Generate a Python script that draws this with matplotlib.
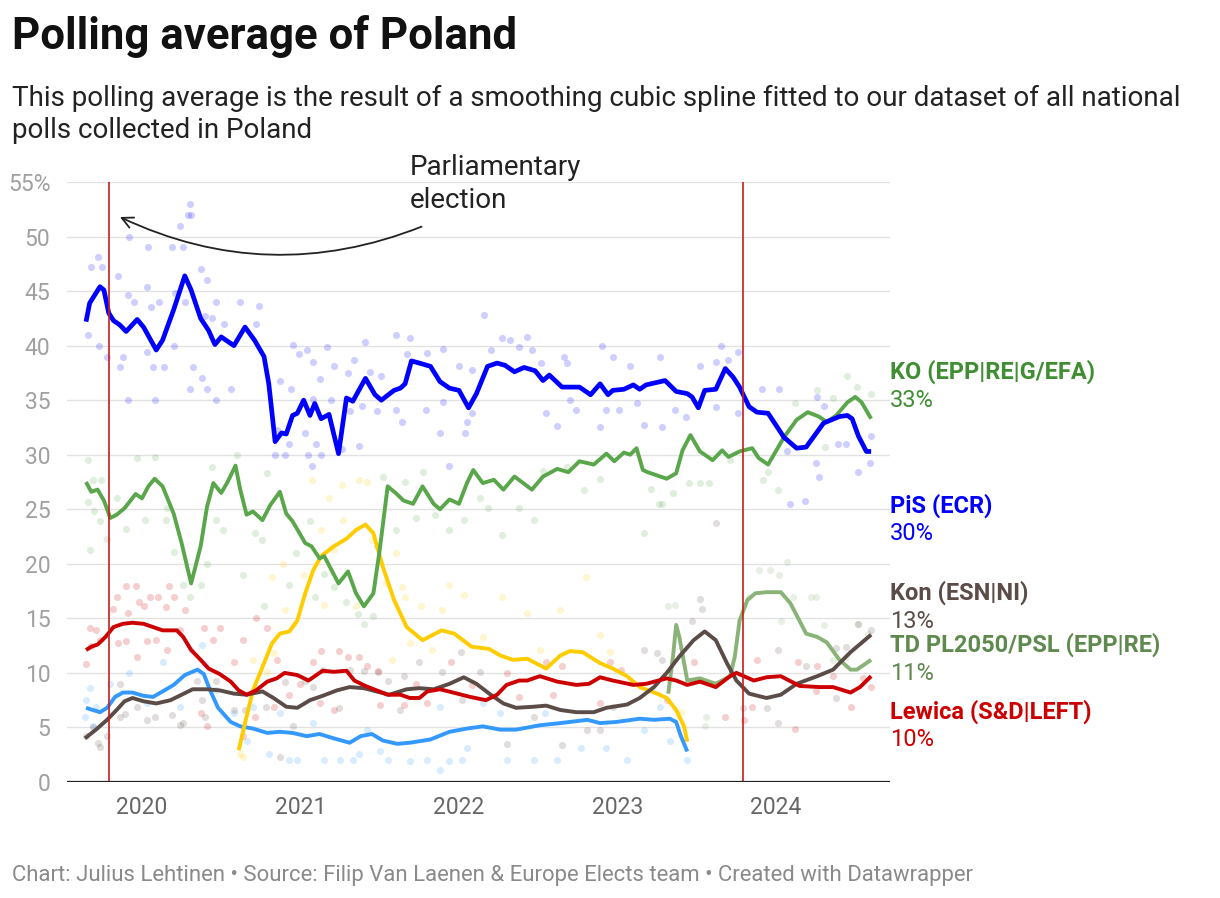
import matplotlib
matplotlib.use("Agg")
import matplotlib.pyplot as plt
from matplotlib.patches import FancyArrowPatch

plt.rcParams['font.family'] = ['Roboto', 'DejaVu Sans']

###################################
#     Data ###
###################################

pis_x = [2019.647, 2019.67, 2019.735, 2019.76, 2019.79, 2019.82, 2019.86, 2019.90, 2019.97, 2020.01,
         2020.09, 2020.13, 2020.20, 2020.27, 2020.31, 2020.37, 2020.42, 2020.46, 2020.50, 2020.58,
         2020.65, 2020.71, 2020.77, 2020.80, 2020.84, 2020.88, 2020.91, 2020.95, 2020.98, 2021.02,
         2021.06, 2021.09, 2021.13, 2021.18, 2021.24, 2021.29, 2021.33, 2021.41, 2021.47, 2021.51,
         2021.59, 2021.63, 2021.66, 2021.70, 2021.75, 2021.82, 2021.88, 2021.94, 2022.00, 2022.06,
         2022.11, 2022.18, 2022.24, 2022.29, 2022.35, 2022.41, 2022.48, 2022.53, 2022.57, 2022.65,
         2022.76, 2022.83, 2022.89, 2022.94, 2022.97, 2023.04, 2023.10, 2023.14, 2023.18, 2023.30,
         2023.37, 2023.44, 2023.47, 2023.51, 2023.55, 2023.62, 2023.68, 2023.73, 2023.77, 2023.83,
         2023.88, 2023.95, 2024.05, 2024.13, 2024.19, 2024.30, 2024.40, 2024.45, 2024.48, 2024.52,
         2024.57, 2024.60]
pis_y = [42.2, 43.9, 45.4, 45.1, 43.0, 42.3, 41.9, 41.3, 42.4, 41.7,
         39.6, 40.5, 43.3, 46.4, 45.1, 42.5, 41.4, 40.1, 40.8, 40.0,
         41.7, 40.5, 39.0, 36.5, 31.2, 32.0, 31.9, 33.6, 33.8, 35.0,
         33.6, 34.7, 33.3, 33.7, 30.1, 35.2, 34.9, 37.0, 35.5, 35.0,
         35.9, 36.1, 36.5, 38.6, 38.4, 38.1, 36.7, 36.1, 35.9, 34.3,
         35.6, 38.1, 38.4, 38.2, 37.6, 38.0, 37.7, 36.8, 37.3, 36.2,
         36.2, 35.5, 36.5, 35.5, 35.9, 36.0, 36.4, 36.0, 36.4, 36.8,
         35.8, 35.6, 35.3, 34.3, 35.9, 36.0, 37.9, 37.1, 36.2, 34.4,
         33.9, 33.8, 31.6, 30.6, 30.7, 32.9, 33.5, 33.6, 33.3, 31.7,
         30.3, 30.3]

ko_x = [2019.647, 2019.68, 2019.72, 2019.76, 2019.80, 2019.84, 2019.89, 2019.96, 2020.00, 2020.04,
        2020.08, 2020.13, 2020.20, 2020.25, 2020.31, 2020.37, 2020.41, 2020.45, 2020.50, 2020.54,
        2020.59, 2020.62, 2020.66, 2020.70, 2020.76, 2020.81, 2020.87, 2020.91, 2020.95, 2021.03,
        2021.07, 2021.12, 2021.15, 2021.24, 2021.30, 2021.35, 2021.40, 2021.46, 2021.50, 2021.55,
        2021.60, 2021.65, 2021.71, 2021.77, 2021.84, 2021.88, 2021.94, 2022.00, 2022.05, 2022.09,
        2022.15, 2022.22, 2022.28, 2022.35, 2022.46, 2022.53, 2022.62, 2022.69, 2022.76, 2022.85,
        2022.93, 2022.98, 2023.04, 2023.08, 2023.12, 2023.16, 2023.19, 2023.25, 2023.31, 2023.37,
        2023.41, 2023.46, 2023.52, 2023.60, 2023.66, 2023.70, 2023.77, 2023.85, 2023.89, 2023.95,
        2024.05, 2024.13, 2024.20, 2024.27, 2024.32, 2024.38, 2024.45, 2024.50, 2024.54, 2024.60]
ko_y = [27.5, 26.6, 26.8, 25.8, 24.2, 24.5, 25.1, 26.4, 26.0, 27.1,
        27.8, 27.1, 24.6, 21.9, 18.2, 21.6, 25.2, 27.4, 26.5, 27.5,
        29.0, 26.8, 24.5, 24.8, 24.0, 25.4, 26.6, 24.6, 23.9, 21.9,
        21.6, 20.5, 20.7, 18.2, 19.3, 17.3, 16.1, 17.3, 21.3, 27.1,
        26.5, 25.8, 25.5, 27.1, 25.5, 25.0, 25.9, 25.5, 27.4, 28.6,
        27.4, 27.7, 26.8, 28.0, 26.8, 28.0, 28.7, 28.4, 29.4, 29.1,
        30.1, 29.4, 30.2, 30.0, 30.6, 28.6, 28.4, 28.1, 27.8, 28.3,
        30.4, 31.8, 30.3, 29.5, 30.4, 29.8, 30.3, 30.6, 29.7, 29.1,
        31.6, 33.2, 33.9, 33.5, 33.0, 33.6, 34.8, 35.3, 34.8, 33.3]

td_x = [2023.32, 2023.35, 2023.37, 2023.39, 2023.44, 2023.52, 2023.62, 2023.71, 2023.74, 2023.77,
        2023.82, 2023.87, 2023.94, 2024.03, 2024.09, 2024.19, 2024.26, 2024.32, 2024.40, 2024.47,
        2024.51, 2024.60]
td_y = [8.1, 11.5, 14.4, 13.3, 9.3, 9.5, 9.0, 9.7, 11.5, 14.8,
        16.7, 17.3, 17.4, 17.4, 16.4, 13.6, 13.3, 12.8, 11.2, 10.3,
        10.3, 11.2]

kon_x = [2019.64, 2019.71, 2019.78, 2019.84, 2019.89, 2019.94, 2020.01, 2020.09, 2020.18, 2020.25,
         2020.32, 2020.41, 2020.49, 2020.58, 2020.66, 2020.76, 2020.83, 2020.91, 2020.98, 2021.06,
         2021.14, 2021.23, 2021.31, 2021.40, 2021.48, 2021.56, 2021.67, 2021.75, 2021.84, 2021.94,
         2022.03, 2022.11, 2022.20, 2022.28, 2022.36, 2022.47, 2022.55, 2022.64, 2022.74, 2022.85,
         2022.93, 2023.06, 2023.14, 2023.23, 2023.31, 2023.39, 2023.48, 2023.55, 2023.62, 2023.69,
         2023.75, 2023.83, 2023.94, 2024.03, 2024.13, 2024.26, 2024.36, 2024.47, 2024.60]
kon_y = [4.0, 4.8, 5.7, 6.6, 7.4, 7.7, 7.4, 7.2, 7.5, 8.0,
         8.5, 8.5, 8.4, 8.1, 8.0, 8.3, 7.7, 6.9, 6.8, 7.5,
         7.9, 8.4, 8.7, 8.6, 8.3, 8.0, 8.5, 8.6, 8.5, 9.0,
         9.6, 9.0, 8.0, 7.2, 6.8, 6.9, 7.0, 6.6, 6.4, 6.4,
         6.8, 7.1, 7.7, 8.7, 10.0, 11.5, 13.0, 13.8, 13.0, 10.9,
         9.3, 8.1, 7.7, 8.0, 9.0, 9.7, 10.3, 11.9, 13.5]

lew_x = [2019.647, 2019.68, 2019.72, 2019.77, 2019.82, 2019.88, 2019.94, 2020.01, 2020.07, 2020.13,
         2020.22, 2020.26, 2020.31, 2020.37, 2020.42, 2020.49, 2020.56, 2020.61, 2020.66, 2020.72,
         2020.79, 2020.85, 2020.90, 2020.98, 2021.05, 2021.09, 2021.14, 2021.21, 2021.29, 2021.34,
         2021.41, 2021.48, 2021.55, 2021.63, 2021.69, 2021.75, 2021.80, 2021.88, 2021.99, 2022.07,
         2022.17, 2022.24, 2022.30, 2022.38, 2022.43, 2022.51, 2022.62, 2022.74, 2022.82, 2022.89,
         2022.97, 2023.10, 2023.18, 2023.31, 2023.37, 2023.44, 2023.52, 2023.62, 2023.71, 2023.75,
         2023.86, 2023.94, 2024.03, 2024.15, 2024.28, 2024.36, 2024.47, 2024.53, 2024.60]
lew_y = [12.1, 12.4, 12.6, 13.3, 14.2, 14.5, 14.6, 14.5, 14.2, 13.9,
         13.9, 13.3, 12.1, 11.2, 10.4, 9.9, 9.2, 8.4, 8.0, 8.4,
         9.2, 9.5, 10.0, 9.8, 9.3, 9.7, 10.2, 10.1, 10.2, 9.3,
         8.8, 8.4, 8.0, 8.0, 7.7, 7.7, 8.3, 8.5, 8.1, 7.8,
         7.5, 8.0, 8.9, 9.3, 9.3, 9.7, 9.2, 8.9, 9.0, 9.6,
         9.3, 8.9, 9.0, 9.5, 9.3, 8.9, 9.2, 8.7, 9.7, 10.0,
         9.3, 9.6, 9.7, 8.8, 8.7, 8.7, 8.2, 8.7, 9.7]

pl2050_x = [2020.61, 2020.65, 2020.70, 2020.77, 2020.82, 2020.87, 2020.93, 2020.98, 2021.03, 2021.08,
            2021.13, 2021.21, 2021.29, 2021.35, 2021.41, 2021.46, 2021.52, 2021.59, 2021.67, 2021.77,
            2021.89, 2021.97, 2022.08, 2022.19, 2022.26, 2022.34, 2022.43, 2022.55, 2022.64, 2022.70,
            2022.78, 2022.89, 2022.97, 2023.06, 2023.14, 2023.25, 2023.31, 2023.37, 2023.42, 2023.44]
pl2050_y = [2.9, 5.4, 8.4, 10.9, 12.7, 13.6, 13.8, 14.8, 17.3, 19.4,
            20.7, 21.6, 22.3, 23.1, 23.6, 22.8, 19.7, 16.7, 14.2, 13.0,
            13.9, 13.6, 12.4, 12.2, 11.6, 11.2, 11.3, 10.4, 11.6, 12.0,
            11.9, 10.9, 10.4, 9.7, 8.7, 8.1, 7.7, 6.6, 5.1, 3.7]

psl_x = [2019.647, 2019.69, 2019.735, 2019.78, 2019.83, 2019.88, 2019.94, 2020.01, 2020.07, 2020.13,
         2020.20, 2020.27, 2020.35, 2020.39, 2020.43, 2020.48, 2020.56, 2020.62, 2020.70, 2020.79,
         2020.87, 2020.95, 2021.04, 2021.12, 2021.21, 2021.31, 2021.38, 2021.45, 2021.52, 2021.61,
         2021.69, 2021.82, 2021.94, 2022.05, 2022.15, 2022.26, 2022.36, 2022.51, 2022.64, 2022.81,
         2022.89, 2022.99, 2023.14, 2023.23, 2023.33, 2023.37, 2023.40, 2023.44]
psl_y = [6.8, 6.6, 6.4, 6.8, 7.8, 8.2, 8.2, 7.9, 7.8, 8.3,
         8.9, 9.8, 10.3, 9.9, 8.4, 6.8, 5.5, 5.1, 4.9, 4.5,
         4.6, 4.5, 4.2, 4.4, 4.0, 3.6, 4.2, 4.4, 3.8, 3.5,
         3.6, 3.9, 4.6, 4.9, 5.1, 4.8, 4.8, 5.2, 5.4, 5.7,
         5.4, 5.5, 5.8, 5.7, 5.8, 5.5, 4.2, 2.8]

# individual polls (a sample of the dots)
pis_poll_x = [2020.30, 2020.29, 2020.31, 2020.24, 2019.92, 2020.04, 2020.19, 2020.26, 2019.72, 2019.68,
              2019.75, 2020.37, 2019.85, 2020.41, 2020.03, 2019.91, 2019.95, 2020.06, 2020.11, 2020.21,
              2020.27, 2020.47, 2020.62, 2020.74, 2020.72, 2020.40, 2020.44, 2020.52, 2020.03, 2020.07,
              2020.14, 2019.86, 2019.88, 2019.78, 2019.66, 2019.73, 2020.20, 2020.32, 2020.38, 2020.30,
              2020.41, 2020.47, 2019.91, 2020.08, 2020.56, 2020.95, 2021.04, 2021.17, 2020.99, 2021.21,
              2021.41, 2021.34, 2021.60, 2021.69, 2021.67, 2021.08, 2021.12, 2021.30, 2021.44, 2021.51,
              2020.94, 2020.87, 2021.08, 2021.19, 2021.31, 2021.39, 2021.48, 2021.60, 2021.64, 2020.84,
              2020.90, 2021.05, 2021.13, 2021.26, 2021.37, 2021.03, 2020.93, 2021.10, 2020.85, 2021.07,
              2022.16, 2022.43, 2022.32, 2022.20, 2022.27, 2022.38, 2022.46, 2021.90, 2021.80, 2022.90,
              2022.97, 2023.27, 2023.65, 2023.76, 2023.70, 2023.62, 2023.52, 2022.52, 2022.66, 2022.68,
              2023.08, 2022.00, 2022.08, 2021.79, 2021.90, 2022.05, 2022.08, 2021.88, 2022.04, 2022.55,
              2022.70, 2022.74, 2022.62, 2022.89, 2022.93, 2023.01, 2023.12, 2023.17, 2023.28, 2023.36,
              2023.43, 2023.62, 2023.76, 2023.91, 2024.02, 2024.25, 2024.26, 2024.30, 2024.39, 2024.44,
              2024.07, 2024.27, 2024.09, 2024.18, 2024.52, 2024.59, 2024.60, 2021.94]
pis_poll_y = [53.0, 52.0, 52.0, 51.0, 50.0, 49.0, 49.0, 49.0, 48.1, 47.2,
              47.2, 47.0, 46.4, 46.0, 45.4, 44.6, 44.0, 43.5, 44.0, 44.8,
              44.0, 44.0, 44.0, 43.6, 42.0, 42.7, 42.5, 42.0, 39.4, 38.0,
              38.0, 38.0, 39.0, 39.0, 41.0, 40.0, 40.0, 38.0, 37.0, 36.0,
              36.0, 35.0, 35.0, 35.0, 36.0, 40.1, 39.6, 39.9, 39.2, 38.1,
              40.3, 38.7, 41.0, 40.7, 39.2, 38.5, 36.9, 37.5, 37.6, 37.2,
              36.0, 36.8, 35.1, 35.0, 34.0, 34.5, 34.0, 34.1, 33.0, 30.0,
              30.0, 30.0, 30.0, 30.5, 30.8, 32.0, 31.0, 31.0, 32.3, 29.0,
              42.8, 40.8, 40.5, 39.6, 40.7, 39.9, 39.6, 39.7, 39.3, 40.0,
              39.0, 39.0, 40.0, 39.4, 38.7, 38.5, 38.1, 38.4, 39.0, 38.4,
              38.1, 38.1, 37.8, 34.1, 34.8, 33.0, 33.8, 32.0, 32.0, 33.8,
              35.0, 34.1, 32.6, 32.5, 34.1, 34.1, 34.7, 32.7, 32.5, 34.1,
              33.5, 34.4, 33.8, 36.0, 36.0, 29.2, 35.3, 34.5, 31.0, 31.0,
              30.3, 28.0, 25.5, 25.8, 28.4, 29.2, 31.7, 29.0]

ko_poll_x = [2019.66, 2019.70, 2019.67, 2019.69, 2019.74, 2019.66, 2019.735, 2019.78, 2019.84, 2019.90,
             2019.97, 2020.02, 2020.08, 2020.15, 2020.16, 2020.20, 2020.26, 2020.30, 2020.37, 2020.41,
             2020.44, 2020.47, 2020.51, 2020.60, 2020.64, 2020.71, 2020.76, 2020.77, 2020.79, 2020.93,
             2020.97, 2021.06, 2021.09, 2021.15, 2021.21, 2021.29, 2021.40, 2021.36, 2021.46, 2021.48,
             2021.52, 2021.60, 2021.66, 2021.73, 2021.77, 2021.85, 2021.94, 2022.03, 2022.27, 2022.13,
             2022.18, 2022.38, 2022.47, 2022.53, 2022.68, 2022.79, 2022.89, 2023.17, 2023.26, 2023.28,
             2023.35, 2023.21, 2023.58, 2023.71, 2023.92, 2024.01, 2023.95, 2024.26, 2024.45, 2024.51,
             2024.60, 2024.36, 2024.31, 2024.12, 2023.52, 2023.45]
ko_poll_y = [29.5, 24.8, 21.3, 27.7, 27.7, 25.7, 23.9, 22.3, 26.0, 23.2,
             29.7, 24.0, 29.8, 24.0, 25.1, 21.1, 18.1, 17.0, 18.1, 20.0,
             28.9, 24.0, 23.1, 30.0, 19.0, 22.8, 22.2, 16.1, 28.3, 18.1,
             21.0, 23.9, 17.0, 19.1, 17.9, 16.5, 14.5, 15.4, 15.2, 21.6,
             28.0, 23.1, 27.5, 24.2, 28.4, 24.5, 23.1, 24.0, 22.6, 26.0,
             25.1, 25.1, 24.0, 28.5, 28.9, 26.8, 27.8, 22.8, 25.5, 25.5,
             26.5, 26.9, 27.4, 29.5, 27.7, 26.8, 28.4, 35.9, 37.2, 36.2,
             35.6, 35.2, 30.7, 34.7, 27.4, 27.4]

lew_poll_x = [2019.90, 2019.96, 2020.17, 2019.84, 2020.05, 2020.10, 2019.98, 2020.20, 2020.27, 2020.01,
              2019.91, 2020.15, 2019.82, 2019.67, 2019.71, 2019.68, 2019.735, 2019.65, 2019.85, 2019.90,
              2019.97, 2020.03, 2020.09, 2020.16, 2020.24, 2020.39, 2020.45, 2020.49, 2020.64, 2020.72,
              2020.79, 2020.85, 2020.58, 2020.37, 2020.41, 2020.64, 2020.71, 2020.83, 2020.93, 2021.00,
              2021.13, 2021.24, 2021.30, 2021.37, 2021.42, 2021.49, 2021.08, 2021.12, 2021.21, 2021.50,
              2021.65, 2021.73, 2021.95, 2022.30, 2022.55, 2022.65, 2022.95, 2023.02, 2023.48, 2023.88,
              2024.14, 2024.26, 2024.36, 2023.80, 2023.85, 2024.12, 2024.25, 2024.47, 2023.68, 2023.31,
              2022.89, 2022.59, 2022.38, 2022.08, 2021.80, 2024.55, 2024.60]
lew_poll_y = [18.0, 18.0, 18.0, 17.0, 17.0, 17.0, 16.5, 17.0, 15.8, 16.1,
              15.5, 16.0, 15.9, 14.1, 13.9, 12.5, 13.0, 10.8, 12.7, 12.9,
              11.5, 12.9, 13.0, 12.1, 13.9, 14.1, 13.0, 14.1, 13.0, 15.0,
              14.1, 11.2, 11.0, 6.3, 5.1, 4.2, 6.0, 6.9, 8.0, 9.0,
              12.0, 12.0, 11.5, 11.5, 10.6, 10.2, 11.0, 7.2, 6.6, 7.1,
              7.1, 9.0, 11.0, 10.0, 11.0, 10.6, 11.0, 10.3, 11.0, 11.2,
              11.0, 10.6, 9.7, 5.7, 6.9, 4.9, 8.3, 6.9, 6.0, 7.5,
              7.2, 8.0, 7.8, 8.9, 7.2, 9.5, 8.7]

kon_poll_x = [2019.735, 2019.72, 2019.65, 2019.69, 2019.78, 2019.86, 2019.89, 2019.86, 2019.97, 2020.03,
              2020.08, 2020.19, 2020.24, 2020.26, 2020.38, 2020.40, 2020.47, 2020.35, 2020.58, 2020.65,
              2020.78, 2020.87, 2020.90, 2020.95, 2021.03, 2021.08, 2021.14, 2021.24, 2021.31, 2021.40,
              2021.49, 2021.55, 2021.65, 2021.63, 2021.75, 2021.89, 2022.01, 2022.13, 2022.02, 2022.30,
              2022.47, 2022.65, 2022.81, 2022.89, 2022.97, 2023.17, 2023.25, 2023.28, 2023.47, 2023.52,
              2023.53, 2023.62, 2024.01, 2024.19, 2024.38, 2024.01, 2024.52, 2024.60, 2024.44, 2024.38,
              2023.94, 2023.79]
kon_poll_y = [3.2, 3.6, 4.2, 5.0, 4.2, 6.0, 6.2, 9.0, 6.9, 5.7,
              6.0, 6.1, 5.2, 5.4, 7.5, 6.0, 9.3, 9.3, 6.6, 6.6,
              6.9, 2.3, 9.2, 5.1, 9.3, 8.7, 10.3, 6.8, 10.3, 10.2,
              10.1, 9.3, 9.7, 6.6, 11.0, 10.1, 11.9, 10.1, 7.5, 3.5,
              6.0, 3.4, 4.8, 4.8, 6.9, 12.1, 11.8, 11.2, 14.8, 16.8,
              15.9, 23.7, 12.1, 10.6, 12.3, 5.4, 14.5, 13.9, 12.4, 7.7,
              6.8, 6.8]

pl2050_poll_x = [2020.62, 2020.64, 2020.70, 2020.79, 2020.83, 2020.82, 2020.89, 2020.90, 2020.96, 2021.02,
                 2021.07, 2021.13, 2021.18, 2021.27, 2021.26, 2021.37, 2021.42, 2021.45, 2021.54, 2021.60,
                 2021.64, 2021.58, 2021.69, 2021.21, 2021.15, 2021.35, 2021.66, 2021.76, 2021.94, 2022.03,
                 2021.89, 2022.27, 2022.43, 2022.64, 2022.80, 2022.89, 2022.95, 2023.40, 2022.15, 2021.83,
                 2022.51]
pl2050_poll_y = [2.6, 2.3, 11.2, 10.1, 11.8, 18.8, 20.0, 15.8, 14.5, 19.0,
                 27.7, 23.1, 26.0, 24.0, 27.2, 27.7, 27.5, 22.2, 18.2, 21.0,
                 17.9, 11.2, 12.7, 21.3, 16.2, 16.1, 17.0, 16.1, 18.1, 17.1,
                 15.8, 17.0, 15.5, 15.8, 18.8, 13.5, 11.9, 6.4, 13.3, 12.1,
                 12.1]

psl_poll_x = [2019.67, 2019.65, 2019.71, 2019.64, 2019.69, 2019.80, 2019.92, 2020.03, 2020.13, 2020.24,
              2020.31, 2020.38, 2020.40, 2020.47, 2020.58, 2020.66, 2020.80, 2020.93, 2020.98, 2021.15,
              2021.25, 2021.33, 2021.37, 2021.42, 2021.50, 2021.55, 2021.69, 2020.70, 2020.87, 2021.08,
              2021.80, 2021.88, 2021.94, 2022.02, 2022.05, 2022.15, 2022.30, 2022.47, 2022.62, 2022.77,
              2022.93, 2023.06, 2023.17, 2023.27, 2023.44, 2023.33, 2022.54, 2022.26, 2021.88]
psl_poll_y = [8.6, 7.5, 6.9, 6.0, 5.1, 9.0, 10.0, 7.2, 11.0, 6.9,
              12.1, 12.6, 10.8, 8.4, 6.3, 3.8, 2.6, 2.0, 2.0, 2.0,
              2.0, 2.0, 2.6, 4.8, 2.8, 2.0, 1.9, 6.9, 6.3, 5.4,
              2.0, 1.1, 1.9, 2.0, 3.1, 7.2, 2.0, 2.0, 2.0, 3.1,
              3.1, 2.0, 4.8, 6.9, 2.0, 3.8, 6.3, 6.3, 6.9]

td_poll_x = [2023.32, 2023.36, 2023.83, 2024.02, 2024.07, 2024.11, 2024.22, 2024.30, 2024.36, 2023.56,
             2023.55, 2023.96, 2023.89, 2024.25, 2024.52, 2024.58, 2024.44, 2024.03]
td_poll_y = [16.1, 16.2, 17.0, 19.0, 20.2, 17.0, 17.0, 14.4, 11.2, 6.0,
             5.1, 19.4, 19.4, 17.0, 14.5, 13.6, 11.5, 14.8]

elections = [2019.79, 2023.79]

end_labels = ['KO (EPP|RE|G/EFA)', 'PiS (ECR)', 'Kon (ESN|NI)', 'TD PL2050/PSL (EPP|RE)', 'Lewica (S&D|LEFT)']
end_values = ['33%', '30%', '13%', '11%', '10%']
label_colors = ['#3f8f32', '#0000ff', '#5b4c47', '#5f8a4e', '#cc0000']
label_ypix = [372, 506, 593, 645, 712]

###################################
#     Plot                      ###
###################################

W, H = 1220, 898
fig = plt.figure(figsize=(W / 100, H / 100), dpi=100)
ax = fig.add_axes([67 / W, 1 - 782 / H, (890 - 67) / W, (782 - 182) / H])

ax.set_xlim(2019.527, 2024.719)
ax.set_ylim(0, 55)

series = [
    (psl_x, psl_y, psl_poll_x, psl_poll_y, '#3399ff', 2.8),
    (pl2050_x, pl2050_y, pl2050_poll_x, pl2050_poll_y, '#ffcc00', 2.8),
    (td_x, td_y, td_poll_x, td_poll_y, '#8ab377', 2.8),
    (kon_x, kon_y, kon_poll_x, kon_poll_y, '#5b4c47', 2.8),
    (lew_x, lew_y, lew_poll_x, lew_poll_y, '#cc0000', 2.8),
    (ko_x, ko_y, ko_poll_x, ko_poll_y, '#5aa64b', 2.8),
    (pis_x, pis_y, pis_poll_x, pis_poll_y, '#0000ff', 3.4),
]

# dots first so every line sits on top
for lx, ly, px, py, col, lw in series:
    ax.scatter(px, py, s=26, color=col, alpha=0.19, linewidths=0, zorder=2)
for lx, ly, px, py, col, lw in series:
    ax.plot(lx, ly, color=col, lw=lw, solid_capstyle='butt', solid_joinstyle='round', zorder=4)

for e in elections:
    ax.axvline(e, color='#c71e1d', lw=1.2, zorder=5)

ax.set_yticks(range(0, 56, 5))
ax.set_yticklabels([str(v) if v < 55 else '55%' for v in range(0, 56, 5)])
ax.set_xticks([2020, 2021, 2022, 2023, 2024])
ax.set_xticklabels(['2020', '2021', '2022', '2023', '2024'])
ax.tick_params(axis='y', length=0, pad=12, labelsize=16.5, labelcolor='#a0a0a0')
ax.tick_params(axis='x', length=0, pad=10, labelsize=16.5, labelcolor='#666666')
ax.grid(axis='y', color='#e2e2e2', lw=1.0, zorder=0)
ax.set_axisbelow(True)
for s in ax.spines.values():
    s.set_visible(False)
ax.axhline(0, color='#222222', lw=1.6, zorder=6)

# annotation
ax.text(2021.69, 57.6, 'Parliamentary\nelection', fontsize=20, color='#222222',
        va='top', ha='left', linespacing=1.3)
arrow = FancyArrowPatch((2021.78, 51.0), (2019.845, 51.9), arrowstyle='->', mutation_scale=20,
                        connectionstyle='arc3,rad=-0.22', color='#222222', lw=1.3, zorder=7)
ax.add_patch(arrow)

# end labels
for name, val, col, yp in zip(end_labels, end_values, label_colors, label_ypix):
    fig.text(890 / W, 1 - yp / H, name, color=col, fontsize=17, fontweight='bold', va='center', ha='left')
    fig.text(890 / W, 1 - (yp + 28) / H, val, color=col, fontsize=17, va='center', ha='left')

fig.text(12 / W, 1 - 37 / H, 'Polling average of Poland', fontsize=31.5, fontweight='bold',
         color='#111111', va='center', ha='left')
fig.text(12 / W, 1 - 98 / H, 'This polling average is the result of a smoothing cubic spline fitted to our dataset of all national',
         fontsize=20, color='#222222', va='center', ha='left')
fig.text(12 / W, 1 - 130 / H, 'polls collected in Poland', fontsize=20, color='#222222', va='center', ha='left')
fig.text(12 / W, 1 - 875 / H, 'Chart: Julius Lehtinen \u2022 Source: Filip Van Laenen & Europe Elects team \u2022 Created with Datawrapper',
         fontsize=15.9, color='#8a8a8a', va='center', ha='left')

plt.savefig('out.png', dpi=100)
